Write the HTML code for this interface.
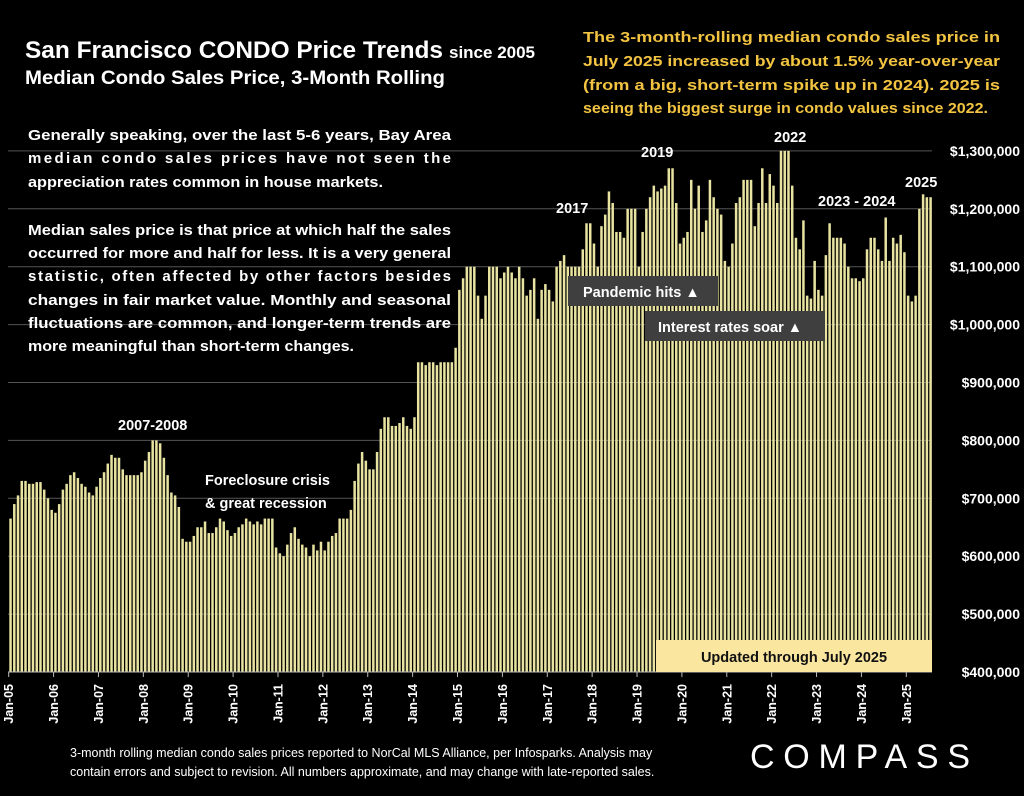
<!DOCTYPE html>
<html><head><meta charset="utf-8"><style>
body{margin:0;background:#000;width:1024px;height:791px;overflow:hidden;font-family:"Liberation Sans",sans-serif;}
</style></head><body>
<svg id="s" width="1024" height="791" xmlns="http://www.w3.org/2000/svg" font-family="Liberation Sans, sans-serif">
<rect width="1024" height="791" fill="#000"/>
<g id="grid" stroke="#555" stroke-width="1"></g>
<g id="bars" fill="#e8e3a0"></g>
<line x1="8" y1="672" x2="932" y2="672" stroke="#bbb" stroke-width="1"/>
<g id="ticks" stroke="#bbb"></g>
<g id="xl" fill="#fff" font-size="12.5" font-weight="bold"></g>
<g fill="#fff" font-size="14" font-weight="bold" id="yl"></g>
<!-- title -->
<text x="25" y="58" fill="#fff" font-weight="bold" font-size="24"><tspan textLength="418" lengthAdjust="spacingAndGlyphs">San Francisco CONDO Price Trends</tspan><tspan font-size="17" dx="6">since 2005</tspan></text>
<text x="25" y="84" fill="#fff" font-weight="bold" font-size="19" textLength="420" lengthAdjust="spacingAndGlyphs">Median Condo Sales Price, 3-Month Rolling</text>
<g fill="#f3c441" font-size="14.5" font-weight="bold">
<text x="583" y="42" textLength="417" lengthAdjust="spacingAndGlyphs">The 3-month-rolling median condo sales price in</text>
<text x="583" y="66" textLength="417" lengthAdjust="spacingAndGlyphs">July 2025 increased by about 1.5% year-over-year</text>
<text x="583" y="90" textLength="417" lengthAdjust="spacingAndGlyphs">(from a big, short-term spike up in 2024). 2025 is</text>
<text x="583" y="113" textLength="405" lengthAdjust="spacingAndGlyphs">seeing the biggest surge in condo values since 2022.</text>
</g>
<g fill="#fff" font-size="15" font-weight="bold">
<text x="28" y="140" textLength="423" lengthAdjust="spacingAndGlyphs">Generally speaking, over the last 5-6 years, Bay Area</text>
<text x="28" y="163" textLength="423" lengthAdjust="spacing">median condo sales prices have not seen the</text>
<text x="28" y="187" textLength="355" lengthAdjust="spacingAndGlyphs">appreciation rates common in house markets.</text>
<text x="28" y="235" textLength="423" lengthAdjust="spacingAndGlyphs">Median sales price is that price at which half the sales</text>
<text x="28" y="258" textLength="423" lengthAdjust="spacingAndGlyphs">occurred for more and half for less. It is a very general</text>
<text x="28" y="281" textLength="423" lengthAdjust="spacing">statistic, often affected by other factors besides</text>
<text x="28" y="305" textLength="423" lengthAdjust="spacingAndGlyphs">changes in fair market value. Monthly and seasonal</text>
<text x="28" y="328" textLength="423" lengthAdjust="spacingAndGlyphs">fluctuations are common, and longer-term trends are</text>
<text x="28" y="351" textLength="326" lengthAdjust="spacingAndGlyphs">more meaningful than short-term changes.</text>
</g>
<g fill="#fff" font-size="14.5" font-weight="bold">
<text x="118" y="430">2007-2008</text>
<text x="205" y="485">Foreclosure crisis</text>
<text x="205" y="508">&amp; great recession</text>
<text x="556" y="213">2017</text>
<text x="641" y="157">2019</text>
<text x="774" y="142">2022</text>
<text x="818" y="206">2023 - 2024</text>
<text x="905" y="187">2025</text>
</g>
<rect x="568" y="276" width="150" height="30" fill="#3f3f3f"/>
<text x="583" y="297" fill="#fff" font-size="14.5" font-weight="bold">Pandemic hits ▲</text>
<rect x="645" y="311" width="180" height="30" fill="#3f3f3f"/>
<text x="658" y="332" fill="#fff" font-size="14.5" font-weight="bold">Interest rates soar ▲</text>
<rect x="656" y="640" width="276" height="32" fill="#fbe6a0"/>
<text x="794" y="662" fill="#111" font-size="14.5" font-weight="bold" text-anchor="middle">Updated through July 2025</text>
<g fill="#fff" font-size="12.5">
<text x="70" y="757">3-month rolling median condo sales prices reported to NorCal MLS Alliance, per Infosparks. Analysis may</text>
<text x="70" y="776">contain errors and subject to revision. All numbers approximate, and may change with late-reported sales.</text>
</g>
<text x="750" y="768" fill="#fff" font-size="34" textLength="220" lengthAdjust="spacing">COMPASS</text>
</svg>
<script>
var d=[665,690,705,730,730,725,725,728,728,715,700,680,
675,690,715,725,740,745,735,725,720,710,705,720,
735,745,760,775,770,770,750,740,740,740,740,745,
765,780,800,800,795,770,740,710,705,685,630,625,
625,635,650,650,660,640,640,650,665,660,645,635,
640,650,655,665,660,655,660,655,665,665,665,615,
605,600,620,640,650,630,620,615,600,620,610,625,
610,625,635,640,665,665,665,680,730,760,780,765,
750,750,780,820,840,840,825,825,830,840,825,820,
840,935,935,930,935,935,930,935,935,935,935,960,
1060,1080,1100,1100,1100,1050,1010,1050,1100,1100,1100,1080,
1090,1100,1090,1080,1100,1080,1050,1060,1080,1010,1060,1070,
1060,1040,1100,1110,1120,1100,1100,1100,1100,1130,1175,1175,
1140,1100,1170,1190,1230,1210,1160,1160,1150,1200,1200,1200,
1100,1160,1200,1220,1240,1230,1235,1240,1270,1270,1210,1140,
1150,1160,1250,1200,1240,1160,1180,1250,1220,1200,1190,1110,
1100,1140,1210,1220,1250,1250,1250,1170,1210,1270,1210,1260,
1240,1210,1300,1300,1300,1240,1150,1130,1180,1050,1045,1110,
1060,1050,1120,1175,1150,1150,1150,1140,1100,1080,1080,1075,
1080,1130,1150,1150,1130,1110,1185,1110,1150,1140,1155,1125,
1050,1040,1050,1200,1225,1220,1220];
var NS="http://www.w3.org/2000/svg";
function el(p,t,a,txt){var e=document.createElementNS(NS,t);for(var k in a)e.setAttribute(k,a[k]);if(txt)e.textContent=txt;document.getElementById(p).appendChild(e);}
function Y(v){return 672-(v-400)*0.579;}
for(var v=400;v<=1300;v+=100){var y=Y(v);if(v>400)el("grid","line",{x1:8,x2:932,y1:y,y2:y});
el("yl","text",{x:1020,y:y+5,"text-anchor":"end"},"$"+(v*1000).toLocaleString("en-US"));}
var st=3.74,x0=8.7;
for(var i=0;i<d.length;i++){var y=Y(d[i]);el("bars","rect",{x:x0+i*st+0.6,y:y,width:2.5,height:672-y});}
for(var yr=0;yr<=20;yr++){var x=x0+yr*12*st;el("ticks","line",{x1:x,x2:x,y1:672,y2:677});
var lab="Jan-"+(yr+5<10?"0":"")+(yr+5);
el("xl","text",{x:0,y:0,transform:"translate("+(x+4.5)+",684) rotate(-90)","text-anchor":"end"},lab);}
</script>
</body></html>
